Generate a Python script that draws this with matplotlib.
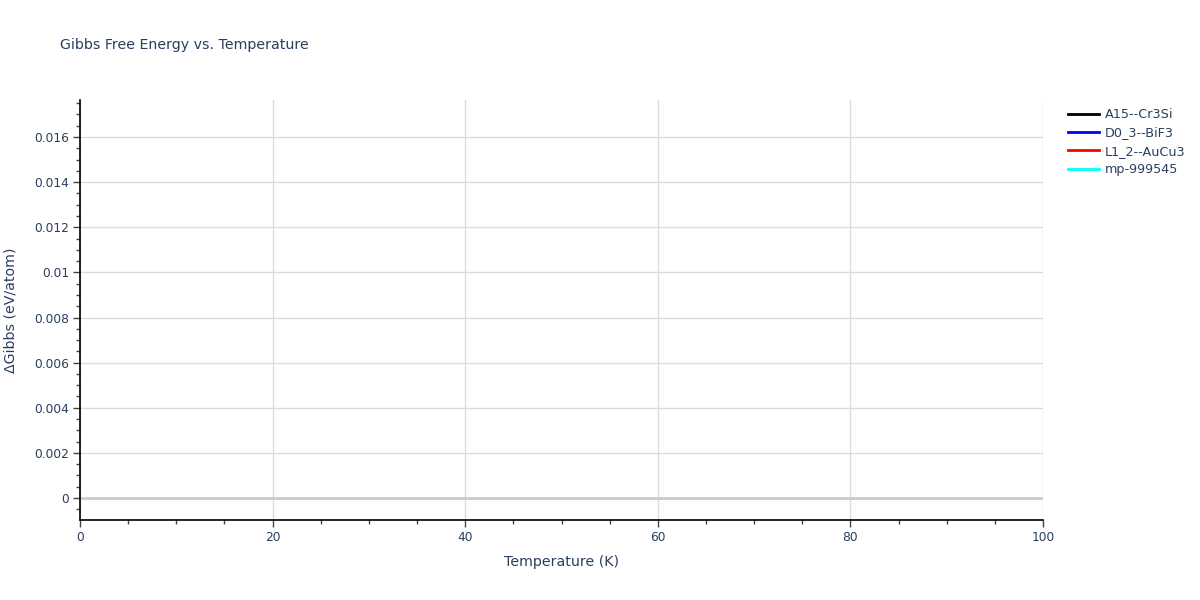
import numpy as np
import matplotlib
matplotlib.use('Agg')
import matplotlib.pyplot as plt
from matplotlib.ticker import MultipleLocator, FuncFormatter

plt.rcParams['font.family'] = ['DejaVu Sans']

# 데이터 (그림에 보이는 선은 없음)
names = ['A15--Cr3Si', 'D0_3--BiF3', 'L1_2--AuCu3', 'mp-999545']
colors = ['black', 'blue', 'red', 'cyan']
temps = [[], [], [], []]
gibbs = [[], [], [], []]

x_range = [0, 100]
y_range = [-0.000975, 0.01764]

txt = '#2a3f5f'
W, H = 1200, 600
fig = plt.figure(figsize=(12, 6), dpi=100)
ax = fig.add_axes([80 / W, 80 / H, (1043 - 80) / W, 420 / H])

for t, g, n, c in zip(temps, gibbs, names, colors):
    ax.plot(t, g, color=c, lw=2, label=n)

ax.set_xlim(x_range)
ax.set_ylim(y_range)

ax.xaxis.set_major_locator(MultipleLocator(20))
ax.xaxis.set_minor_locator(MultipleLocator(5))
ax.yaxis.set_major_locator(MultipleLocator(0.002))
ax.yaxis.set_minor_locator(MultipleLocator(0.0005))

def yfmt(v, pos):
    if abs(v) < 1e-12:
        return '0'
    return ('%.3f' % v).rstrip('0')

ax.yaxis.set_major_formatter(FuncFormatter(yfmt))

ax.grid(True, which='major', color='#dcdcdc', lw=1)
ax.axhline(0, color='#cccccc', lw=2, zorder=1)
ax.set_axisbelow(True)

for s in ['top', 'right']:
    ax.spines[s].set_visible(False)
for s in ['left', 'bottom']:
    ax.spines[s].set_color('black')
    ax.spines[s].set_linewidth(1.2)

ax.tick_params(axis='both', which='major', direction='out', length=5, width=1,
               color='#444444', labelcolor=txt, labelsize=8.8, pad=3)
ax.tick_params(axis='both', which='minor', direction='out', length=3, width=1,
               color='#444444')

ax.set_xlabel('Temperature (K)', color=txt, fontsize=10.2, labelpad=8)
ax.set_ylabel('ΔGibbs (eV/atom)', color=txt, fontsize=10.2, labelpad=12)

fig.text(60 / W, 1 - 45 / H, 'Gibbs Free Energy vs. Temperature', color=txt,
         fontsize=10.2, va='center', ha='left')

leg = ax.legend(loc='upper left', bbox_to_anchor=(1063 / W, 1 - 103 / H),
                bbox_transform=fig.transFigure, frameon=False, fontsize=9.2,
                handlelength=2.4, handletextpad=0.45, labelspacing=0.42,
                borderaxespad=0)
for t in leg.get_texts():
    t.set_color(txt)

fig.savefig('out.png', dpi=100)
